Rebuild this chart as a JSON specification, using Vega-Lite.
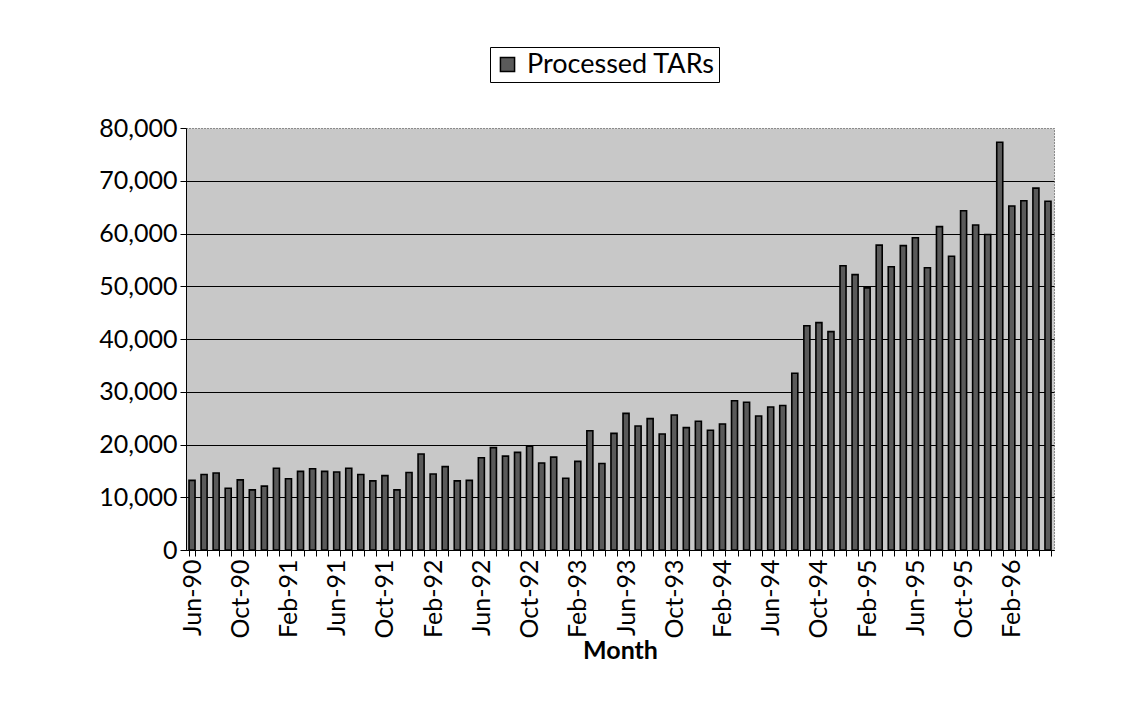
{
  "$schema": "https://vega.github.io/schema/vega-lite/v6.json",
  "width": 868,
  "height": 422,
  "autosize": {"type": "none"},
  "padding": {"left": 186, "top": 128, "right": 73, "bottom": 169},
  "background": "white",
  "config": {
    "font": "Lato",
    "view": {"fill": "#c8c8c8", "stroke": "#333333", "strokeDash": [1, 2], "strokeWidth": 1},
    "axis": {"labelColor": "black", "tickColor": "black", "domainColor": "black", "labelFont": "Lato", "titleFont": "Lato"}
  },
  "data": {
    "values": [
      {"month": "Jun-90", "tars": 13200, "series": "Processed TARs"},
      {"month": "Jul-90", "tars": 14300, "series": "Processed TARs"},
      {"month": "Aug-90", "tars": 14600, "series": "Processed TARs"},
      {"month": "Sep-90", "tars": 11700, "series": "Processed TARs"},
      {"month": "Oct-90", "tars": 13300, "series": "Processed TARs"},
      {"month": "Nov-90", "tars": 11400, "series": "Processed TARs"},
      {"month": "Dec-90", "tars": 12100, "series": "Processed TARs"},
      {"month": "Jan-91", "tars": 15500, "series": "Processed TARs"},
      {"month": "Feb-91", "tars": 13500, "series": "Processed TARs"},
      {"month": "Mar-91", "tars": 14900, "series": "Processed TARs"},
      {"month": "Apr-91", "tars": 15400, "series": "Processed TARs"},
      {"month": "May-91", "tars": 14900, "series": "Processed TARs"},
      {"month": "Jun-91", "tars": 14800, "series": "Processed TARs"},
      {"month": "Jul-91", "tars": 15500, "series": "Processed TARs"},
      {"month": "Aug-91", "tars": 14300, "series": "Processed TARs"},
      {"month": "Sep-91", "tars": 13100, "series": "Processed TARs"},
      {"month": "Oct-91", "tars": 14100, "series": "Processed TARs"},
      {"month": "Nov-91", "tars": 11400, "series": "Processed TARs"},
      {"month": "Dec-91", "tars": 14700, "series": "Processed TARs"},
      {"month": "Jan-92", "tars": 18200, "series": "Processed TARs"},
      {"month": "Feb-92", "tars": 14400, "series": "Processed TARs"},
      {"month": "Mar-92", "tars": 15800, "series": "Processed TARs"},
      {"month": "Apr-92", "tars": 13100, "series": "Processed TARs"},
      {"month": "May-92", "tars": 13200, "series": "Processed TARs"},
      {"month": "Jun-92", "tars": 17500, "series": "Processed TARs"},
      {"month": "Jul-92", "tars": 19400, "series": "Processed TARs"},
      {"month": "Aug-92", "tars": 17800, "series": "Processed TARs"},
      {"month": "Sep-92", "tars": 18500, "series": "Processed TARs"},
      {"month": "Oct-92", "tars": 19700, "series": "Processed TARs"},
      {"month": "Nov-92", "tars": 16500, "series": "Processed TARs"},
      {"month": "Dec-92", "tars": 17600, "series": "Processed TARs"},
      {"month": "Jan-93", "tars": 13600, "series": "Processed TARs"},
      {"month": "Feb-93", "tars": 16800, "series": "Processed TARs"},
      {"month": "Mar-93", "tars": 22600, "series": "Processed TARs"},
      {"month": "Apr-93", "tars": 16400, "series": "Processed TARs"},
      {"month": "May-93", "tars": 22100, "series": "Processed TARs"},
      {"month": "Jun-93", "tars": 25900, "series": "Processed TARs"},
      {"month": "Jul-93", "tars": 23500, "series": "Processed TARs"},
      {"month": "Aug-93", "tars": 24900, "series": "Processed TARs"},
      {"month": "Sep-93", "tars": 22000, "series": "Processed TARs"},
      {"month": "Oct-93", "tars": 25600, "series": "Processed TARs"},
      {"month": "Nov-93", "tars": 23200, "series": "Processed TARs"},
      {"month": "Dec-93", "tars": 24400, "series": "Processed TARs"},
      {"month": "Jan-94", "tars": 22700, "series": "Processed TARs"},
      {"month": "Feb-94", "tars": 23900, "series": "Processed TARs"},
      {"month": "Mar-94", "tars": 28300, "series": "Processed TARs"},
      {"month": "Apr-94", "tars": 28000, "series": "Processed TARs"},
      {"month": "May-94", "tars": 25400, "series": "Processed TARs"},
      {"month": "Jun-94", "tars": 27100, "series": "Processed TARs"},
      {"month": "Jul-94", "tars": 27400, "series": "Processed TARs"},
      {"month": "Aug-94", "tars": 33500, "series": "Processed TARs"},
      {"month": "Sep-94", "tars": 42500, "series": "Processed TARs"},
      {"month": "Oct-94", "tars": 43100, "series": "Processed TARs"},
      {"month": "Nov-94", "tars": 41400, "series": "Processed TARs"},
      {"month": "Dec-94", "tars": 53900, "series": "Processed TARs"},
      {"month": "Jan-95", "tars": 52200, "series": "Processed TARs"},
      {"month": "Feb-95", "tars": 49700, "series": "Processed TARs"},
      {"month": "Mar-95", "tars": 57800, "series": "Processed TARs"},
      {"month": "Apr-95", "tars": 53700, "series": "Processed TARs"},
      {"month": "May-95", "tars": 57700, "series": "Processed TARs"},
      {"month": "Jun-95", "tars": 59200, "series": "Processed TARs"},
      {"month": "Jul-95", "tars": 53500, "series": "Processed TARs"},
      {"month": "Aug-95", "tars": 61300, "series": "Processed TARs"},
      {"month": "Sep-95", "tars": 55700, "series": "Processed TARs"},
      {"month": "Oct-95", "tars": 64300, "series": "Processed TARs"},
      {"month": "Nov-95", "tars": 61600, "series": "Processed TARs"},
      {"month": "Dec-95", "tars": 59800, "series": "Processed TARs"},
      {"month": "Jan-96", "tars": 77300, "series": "Processed TARs"},
      {"month": "Feb-96", "tars": 65200, "series": "Processed TARs"},
      {"month": "Mar-96", "tars": 66200, "series": "Processed TARs"},
      {"month": "Apr-96", "tars": 68600, "series": "Processed TARs"},
      {"month": "May-96", "tars": 66100, "series": "Processed TARs"}
    ]
  },
  "mark": {"type": "bar", "stroke": "black", "strokeWidth": 1.6},
  "encoding": {
    "x": {
      "field": "month",
      "type": "ordinal",
      "sort": null,
      "scale": {"paddingInner": 0.5, "paddingOuter": 0.25},
      "axis": {
        "title": "Month",
        "titleFontSize": 25,
        "titleFontWeight": "bold",
        "titleColor": "black",
        "titlePadding": 0,
        "labelAngle": 270,
        "labelFontSize": 25,
        "labelPadding": 3,
        "labelOverlap": false,
        "labelExpr": "test(/^(Jun|Oct|Feb)/, datum.value) ? datum.value : ''",
        "tickBand": "extent",
        "tickSize": 6,
        "grid": false
      }
    },
    "y": {
      "field": "tars",
      "type": "quantitative",
      "scale": {"domain": [0, 80000], "nice": false},
      "axis": {
        "title": null,
        "values": [0, 10000, 20000, 30000, 40000, 50000, 60000, 70000, 80000],
        "format": ",d",
        "labelFontSize": 25,
        "labelPadding": 3,
        "tickSize": 6,
        "grid": true,
        "gridColor": "black",
        "gridWidth": 1,
        "gridOpacity": {"condition": {"test": "datum.value >= 80000", "value": 0}, "value": 1}
      }
    },
    "color": {
      "field": "series",
      "type": "nominal",
      "scale": {"range": ["#5a5a5a"]},
      "legend": {
        "title": null,
        "orient": "none",
        "legendX": 304,
        "legendY": -81,
        "strokeColor": "black",
        "fillColor": "white",
        "padding": 4,
        "labelFontSize": 27,
        "labelFont": "Lato",
        "labelColor": "black",
        "labelLimit": 0,
        "labelOffset": 6,
        "symbolType": "square",
        "symbolSize": 200,
        "symbolStrokeColor": "black",
        "symbolStrokeWidth": 1.5
      }
    }
  }
}
